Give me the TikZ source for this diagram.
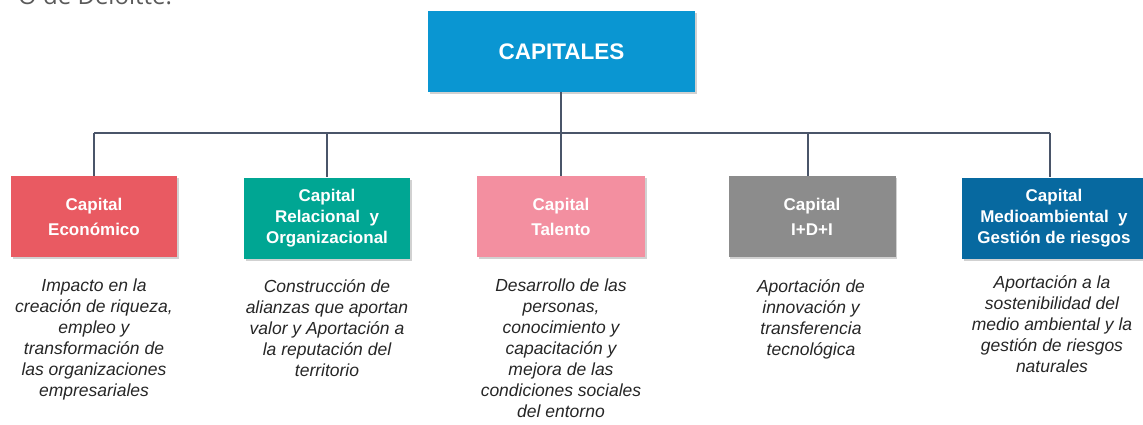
\documentclass[tikz,border=0pt]{standalone}
\usepackage{fontspec}
\setmainfont{Liberation Sans}
\newfontfamily\noteFont{Open Sans}
\usetikzlibrary{shadows}
\definecolor{topblue}{RGB}{10,150,210}
\definecolor{econ}{RGB}{233,90,98}
\definecolor{teal}{RGB}{0,166,147}
\definecolor{pinkc}{RGB}{243,143,160}
\definecolor{grayc}{RGB}{140,140,140}
\definecolor{darkblue}{RGB}{7,105,160}
\definecolor{linec}{RGB}{74,85,105}
\definecolor{desctext}{RGB}{38,38,38}
\definecolor{notegray}{RGB}{90,90,90}
\tikzset{
  capbox/.style={draw=none, minimum height=81pt, inner sep=0pt, text=white,
    align=center, font=\bfseries\fontsize{17}{21}\selectfont,
    drop shadow={shadow xshift=1.5pt, shadow yshift=-2pt, opacity=0.3, fill=black!60}},
  twoline/.style={font=\bfseries\fontsize{17}{25}\selectfont},
  desc/.style={anchor=north, align=center, text=desctext, inner sep=0pt,
    font=\itshape\fontsize{17.5}{21}\selectfont},
  conn/.style={draw=linec, line width=2pt}
}
\begin{document}
\begin{tikzpicture}[x=1pt,y=-1pt]
\useasboundingbox (0,0) rectangle (1143,424);
\clip (0,0) rectangle (1143,424);
\node[anchor=base west, inner sep=0pt, text=notegray, font=\noteFont\fontsize{24}{28}\selectfont] (note) at (18,4) {O de Deloitte.};
% top box
\node[capbox, fill=topblue, minimum width=267pt, font=\bfseries\fontsize{22.5}{26}\selectfont] (top) at (561.5,51.5) {CAPITALES};
% capital boxes
\node[capbox, twoline, fill=econ, minimum width=166pt] (b1) at (94,216.5) {Capital\\Económico};
\node[capbox, fill=teal, minimum width=166pt] (b2) at (327,218) {Capital\\Relacional\ \ y\\Organizacional};
\node[capbox, twoline, fill=pinkc, minimum width=168pt] (b3) at (561,216.5) {Capital\\Talento};
\node[capbox, twoline, fill=grayc, minimum width=167pt] (b4) at (812,216.5) {Capital\\I+D+I};
\node[capbox, fill=darkblue, minimum width=184pt] (b5) at (1054,218) {Capital\\Medioambiental\ \ y\\Gestión\ de riesgos};
% connectors
\coordinate (hl) at (94,133);
\coordinate (hr) at (1050,133);
\coordinate (hc) at (561,133);
\coordinate (h2) at (327,133);
\coordinate (h4) at (808,133);
\draw[conn] (top.south -| hc) -- (hc);
\draw[conn] (hl) -- (hr);
\draw[conn] (hl) -- (b1.north);
\draw[conn] (h2) -- (b2.north);
\draw[conn] (hc) -- (b3.north);
\draw[conn] (h4) -- (b4.north -| h4);
\draw[conn] (hr) -- (b5.north -| hr);
% descriptions
\node[desc] (d1) at (94,279) {Impacto en\ la\\creación de riqueza,\\empleo\ y\\transformación de\\las organizaciones\\empresariales};
\node[desc] (d2) at (327,279) {Construcción de\\alianzas que\ aportan\\valor\ y Aportación a\\la reputación del\\territorio};
\node[desc] (d3) at (561,279) {Desarrollo de las\\personas,\\conocimiento y\\capacitación y\\mejora de las\\condiciones sociales\\del entorno};
\node[desc] (d4) at (811,279) {Aportación de\\innovación\ y\\transferencia\\tecnológica};
\node[desc] (d5) at (1052,275) {Aportación a la\\sostenibilidad del\\medio ambiental\ y la\\gestión de riesgos\\naturales};
\end{tikzpicture}
\end{document}
